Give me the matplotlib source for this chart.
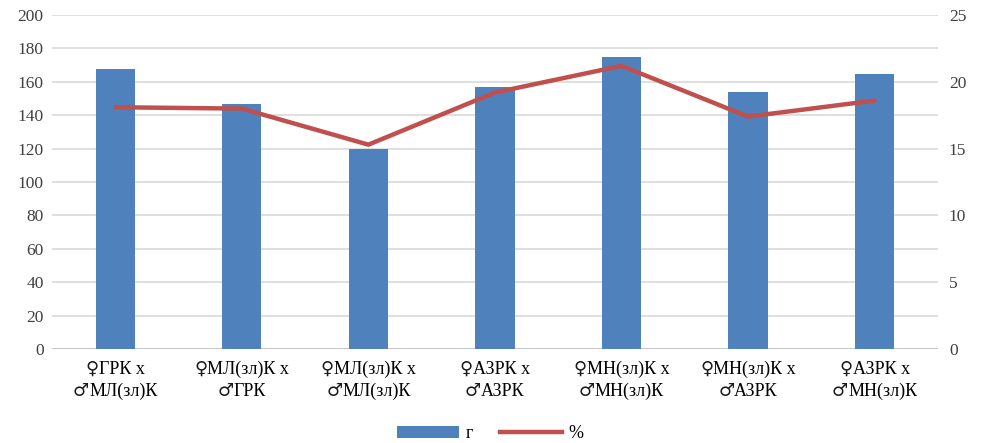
import matplotlib
matplotlib.use("Agg")
import matplotlib.pyplot as plt
from matplotlib.patches import Patch
from matplotlib.lines import Line2D
from matplotlib.offsetbox import TextArea, HPacker, VPacker, AnnotationBbox

# each cross: (female line, male line)
categories = [
    ("♀", "ГРК х", "♂", "МЛ(зл)К"),
    ("♀", "МЛ(зл)К х", "♂", "ГРК"),
    ("♀", "МЛ(зл)К х", "♂", "МЛ(зл)К"),
    ("♀", "АЗРК х", "♂", "АЗРК"),
    ("♀", "МН(зл)К х", "♂", "МН(зл)К"),
    ("♀", "МН(зл)К х", "♂", "АЗРК"),
    ("♀", "АЗРК х", "♂", "МН(зл)К"),
]
grams = [168, 147, 120, 157, 175, 154, 165]
percent = [18.1, 18.0, 15.3, 19.2, 21.2, 17.4, 18.6]

plt.rcParams["font.family"] = ["Liberation Serif", "DejaVu Serif"]

bar_color = "#4f81bd"
line_color = "#c0504d"
grid_color = "#d9d9d9"
text_color = "#404040"

fig = plt.figure(figsize=(9.81, 4.43), dpi=100)
ax = fig.add_axes([0.053, 0.212, 0.903, 0.754])
ax2 = ax.twinx()

x = list(range(len(categories)))
ax.bar(x, grams, width=0.31, color=bar_color, zorder=2)
ax2.plot(x, percent, color=line_color, linewidth=3.2, solid_capstyle="round",
         solid_joinstyle="round", zorder=3)

ax.set_xlim(-0.5, len(categories) - 0.5)
ax.set_ylim(0, 200)
ax.set_yticks(range(0, 201, 20))
ax2.set_ylim(0, 25)
ax2.set_yticks(range(0, 26, 5))

ax.yaxis.grid(True, color=grid_color, linewidth=1.2, zorder=0)
ax.set_axisbelow(True)

for a in (ax, ax2):
    for side in ("top", "left", "right", "bottom"):
        a.spines[side].set_visible(False)
    a.tick_params(axis="both", length=0, labelsize=12.5, colors=text_color)

ax.axhline(0, color="#bfbfbf", linewidth=1.2, zorder=1)
ax.tick_params(axis="y", pad=6)
ax2.tick_params(axis="y", pad=8)

# category labels: sex symbols in a sans font, line names in serif
ax.set_xticks(x)
ax.set_xticklabels([""] * len(x))
sym_props = dict(family=["DejaVu Sans", "DejaVu Serif"], size=13, color="#1a1a1a")
txt_props = dict(family=["Liberation Serif", "DejaVu Serif"], size=13, color="black")
for i, (fs, fname, ms, mname) in enumerate(categories):
    row1 = HPacker(children=[TextArea(fs, textprops=sym_props),
                             TextArea(fname, textprops=txt_props)],
                   align="baseline", pad=0, sep=0)
    row2 = HPacker(children=[TextArea(ms, textprops=sym_props),
                             TextArea(mname, textprops=txt_props)],
                   align="baseline", pad=0, sep=0)
    box = VPacker(children=[row1, row2], align="center", pad=0, sep=3)
    ab = AnnotationBbox(box, (i, 0), xycoords=("data", "axes fraction"),
                        xybox=(0, -8), boxcoords="offset points",
                        box_alignment=(0.5, 1), frameon=False,
                        annotation_clip=False)
    ax.add_artist(ab)

handles = [Patch(facecolor=bar_color, edgecolor="none"),
           Line2D([0], [0], color=line_color, linewidth=3.2)]
fig.legend(handles, ["г", "%"], loc="lower center", ncol=2, frameon=False,
           bbox_to_anchor=(0.5, -0.035), fontsize=13, handlelength=3.4,
           handleheight=0.6, columnspacing=1.5, handletextpad=0.4)

fig.savefig("out.png", dpi=100)
